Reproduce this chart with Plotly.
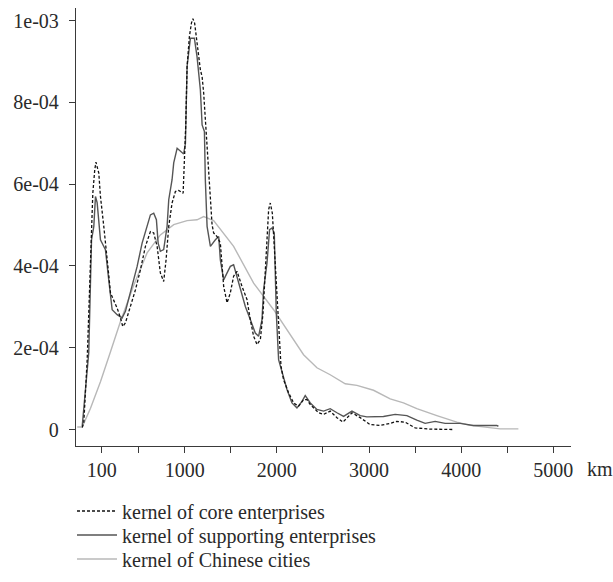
import plotly.graph_objects as go

# ---- data (distance in km, density in units of 1e-4) ----
core_km = [-112, -95, -58, -22, 3, 24, 37, 68, 86, 122, 148, 170, 195, 230, 267, 303, 328, 357,
           411, 466, 520, 574, 628, 664, 701, 736, 772, 798, 827, 863, 899, 935, 983, 997, 1011,
           1026, 1051, 1073, 1089, 1108, 1134, 1170, 1189, 1206, 1235, 1260, 1279, 1297, 1314,
           1351, 1387, 1406, 1423, 1460, 1495, 1531, 1568, 1622, 1676, 1712, 1748, 1785, 1821,
           1850, 1875, 1893, 1911, 1929, 1951, 1972, 1994, 2019, 2045, 2073, 2127, 2182, 2236,
           2290, 2327, 2363, 2453, 2507, 2579, 2652, 2717, 2815, 2905, 3013, 3122, 3230, 3302,
           3392, 3501, 3663, 3916]
core_val = [0.05, 0.16, 1.71, 4.15, 5.78, 6.35, 6.54, 6.27, 5.70, 4.97, 4.48, 3.91, 3.34, 3.18,
            2.97, 2.73, 2.52, 2.61, 3.01, 3.42, 3.91, 4.48, 4.84, 4.81, 4.48, 3.83, 3.62, 4.15,
            4.97, 5.54, 5.82, 5.85, 5.78, 6.43, 7.41, 8.88, 9.61, 9.94, 10.05, 9.94, 9.41, 8.80,
            8.63, 8.23, 7.21, 6.35, 5.54, 5.01, 4.81, 4.72, 4.56, 4.07, 3.50, 3.10, 3.34, 3.75,
            3.87, 3.50, 3.18, 2.69, 2.28, 2.08, 2.20, 2.85, 3.83, 4.64, 5.38, 5.54, 5.29, 4.48,
            3.50, 2.44, 1.55, 1.22, 0.90, 0.65, 0.57, 0.73, 0.73, 0.61, 0.41, 0.37, 0.45, 0.29,
            0.18, 0.41, 0.29, 0.12, 0.10, 0.15, 0.20, 0.18, 0.04, 0.01, 0.0]

supp_km = [-112, -41, -11, 14, 32, 50, 86, 140, 176, 195, 213, 267, 321, 357, 411, 484, 538,
           592, 628, 664, 693, 712, 736, 772, 809, 827, 863, 881, 918, 989, 1008, 1026, 1062,
           1105, 1134, 1170, 1189, 1214, 1224, 1243, 1279, 1333, 1369, 1387, 1423, 1460, 1495,
           1531, 1568, 1622, 1658, 1712, 1766, 1802, 1839, 1856, 1893, 1921, 1947, 1972, 1994,
           2019, 2056, 2110, 2164, 2218, 2273, 2308, 2363, 2435, 2507, 2579, 2652, 2724, 2815,
           2905, 2977, 3157, 3284, 3411, 3519, 3609, 3718, 3826, 3989, 4133, 4386, 4404]
supp_val = [0.08, 1.88, 4.64, 4.97, 5.70, 5.55, 4.64, 4.40, 3.66, 3.35, 2.93, 2.81, 2.73, 2.89,
            3.34, 3.99, 4.56, 4.97, 5.25, 5.29, 5.13, 4.56, 4.36, 4.40, 4.97, 5.62, 6.11, 6.52,
            6.88, 6.74, 7.00, 8.88, 9.57, 9.57, 9.12, 8.31, 7.45, 7.29, 6.11, 4.97, 4.48, 4.64,
            4.72, 4.15, 3.66, 3.83, 3.99, 4.03, 3.75, 3.34, 3.01, 2.69, 2.36, 2.28, 2.69, 3.42,
            4.07, 4.89, 4.93, 4.81, 2.85, 1.71, 1.39, 0.98, 0.65, 0.53, 0.69, 0.83, 0.65, 0.49,
            0.45, 0.51, 0.41, 0.32, 0.45, 0.34, 0.31, 0.32, 0.37, 0.34, 0.23, 0.15, 0.20, 0.15,
            0.15, 0.10, 0.10, 0.08]

city_km = [-166, -112, -22, 86, 195, 303, 447, 592, 736, 881, 1026, 1134, 1206, 1314, 1531,
           1748, 1965, 2182, 2290, 2435, 2579, 2742, 2869, 3049, 3230, 3374, 3519, 3736, 3953,
           4097, 4314, 4423, 4621]
city_val = [0.06, 0.06, 0.52, 1.17, 1.90, 2.64, 3.53, 4.32, 4.76, 5.01, 5.11, 5.13, 5.21, 5.11,
            4.48, 3.58, 2.93, 2.20, 1.83, 1.51, 1.34, 1.12, 1.08, 0.96, 0.75, 0.65, 0.51, 0.34,
            0.18, 0.10, 0.056, 0.017, 0.017]

series_names = ["kernel of core enterprises", "kernel of supporting enterprises",
                "kernel of Chinese cities"]

x_tick_vals = [100, 500, 1000, 1500, 2000, 2500, 3000, 3500, 4000, 4500, 5000]
x_tick_text = ["100", "", "1000", "", "2000", "", "3000", "", "4000", "", "5000"]
y_tick_vals = [0, 2e-4, 4e-4, 6e-4, 8e-4, 1e-3]
y_tick_text = ["0", "2e-04", "4e-04", "6e-04", "8e-04", "1e-03"]
x_unit = "km"

scale = 1e-4
FONT = "Liberation Serif"
FS = 20
TXT = "#2a2a2a"

fig = go.Figure()
fig.add_trace(go.Scatter(x=city_km, y=[v * scale for v in city_val], mode="lines",
                         name=series_names[2], legend="legend3",
                         line=dict(color="#b8b8b8", width=1.4)))
fig.add_trace(go.Scatter(x=supp_km, y=[v * scale for v in supp_val], mode="lines",
                         name=series_names[1], legend="legend2",
                         line=dict(color="#555555", width=1.4)))
fig.add_trace(go.Scatter(x=core_km, y=[v * scale for v in core_val], mode="lines",
                         name=series_names[0], legend="legend",
                         line=dict(color="#111111", width=1.3, dash="3px,2px")))

W, H = 613, 582
left, right, top, bottom = 75.5, 571, 8, 446.5


def leg(yc):
    return dict(xref="container", yref="container", x=72 / W, y=1 - yc / H,
                xanchor="left", yanchor="middle", bgcolor="rgba(0,0,0,0)",
                font=dict(family=FONT, size=FS, color=TXT), itemwidth=40)


fig.update_layout(
    width=W, height=H,
    margin=dict(l=left, r=W - right, t=top, b=H - bottom, pad=0, autoexpand=False),
    paper_bgcolor="white", plot_bgcolor="white",
    font=dict(family=FONT, size=FS, color=TXT),
    showlegend=True,
    legend=leg(511), legend2=leg(535), legend3=leg(559),
    xaxis=dict(range=[-179.4, 5191.9], showgrid=False, zeroline=False, showline=True,
               linecolor="#3a3a3a", linewidth=1.4, ticks="outside", ticklen=6,
               tickcolor="#3a3a3a", tickwidth=1.2, tickvals=x_tick_vals, tickangle=0,
               ticktext=x_tick_text, tickfont=dict(family=FONT, size=FS, color=TXT),
               automargin=False),
    yaxis=dict(range=[-4.03e-5, 1.031e-3], showgrid=False, zeroline=False, showline=True,
               linecolor="#3a3a3a", linewidth=1.4, ticks="outside", ticklen=6,
               tickcolor="#3a3a3a", tickwidth=1.2, tickvals=y_tick_vals,
               ticktext=y_tick_text, tickfont=dict(family=FONT, size=FS, color=TXT),
               ticklabelstandoff=6, automargin=False),
    annotations=[dict(text=x_unit, x=(585 - left) / (right - left), xref="paper", y=0,
                      yref="paper", xanchor="left", yanchor="top", yshift=-10,
                      showarrow=False, font=dict(family=FONT, size=FS, color=TXT))],
)

fig.write_html("out.html")
